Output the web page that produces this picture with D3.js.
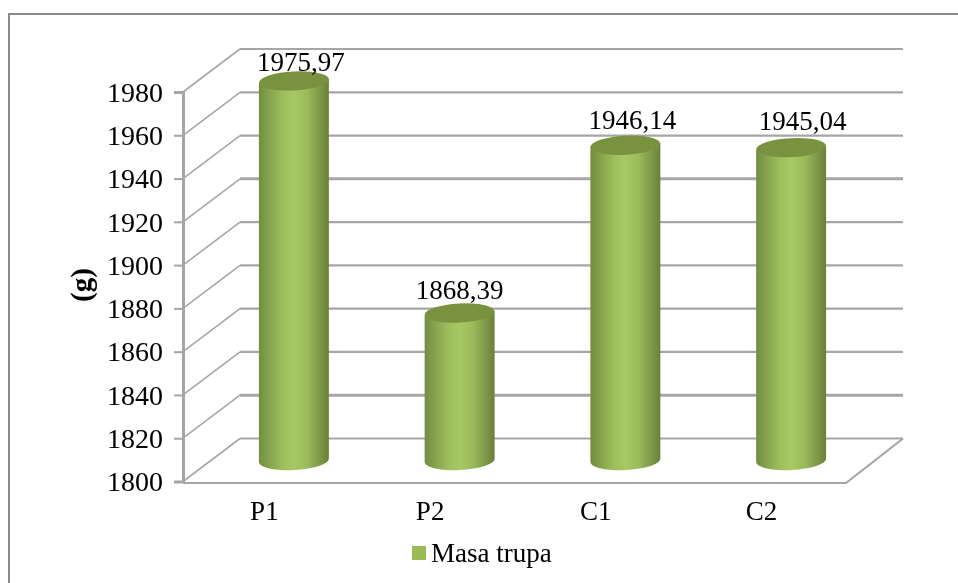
<!DOCTYPE html>
<html><head><meta charset="utf-8">
<script src="https://cdnjs.cloudflare.com/ajax/libs/d3/7.8.5/d3.min.js"></script>
<style>html,body{margin:0;padding:0;background:#fff}svg{display:block}text{font-family:"Liberation Serif","Times New Roman",serif;fill:#000}</style>
</head><body><svg id="c" width="958" height="583"></svg>
<script>
const categories = ["P1","P2","C1","C2"];
const seriesName = "Masa trupa";
const values = [1975.97,1868.39,1946.14,1945.04];
const valueLabels = ["1975,97","1868,39","1946,14","1945,04"];
const yTicks = [1800,1820,1840,1860,1880,1900,1920,1940,1960,1980];
const yTitle = "(g)";

const svg = d3.select("#c");
const defs = svg.append("defs");
defs.append("filter").attr("id","soft").append("feGaussianBlur").attr("stdDeviation",0.45);
const side = defs.append("linearGradient").attr("id","side");
[[0,"#728d40"],[0.12,"#829f4a"],[0.35,"#9fbf5e"],[0.5,"#a7c864"],[0.68,"#9cbc5b"],[0.88,"#7d9748"],[1,"#68803a"]]
  .forEach(([o,c])=>side.append("stop").attr("offset",o).attr("stop-color",c));

const dx = 57, dy = 43;
const x = d3.scaleBand().domain(categories).range([183,846]).paddingInner(0.578).paddingOuter(0.289);
const xLabels = d3.scaleBand().domain(categories).range([183,846]);
const y = d3.scaleLinear().domain([1800,1980]).range([481.5,92]);
const yBar = d3.scaleLinear().domain([1800,1980]).range([460.5,72.2]);

const g = svg.append("g").attr("filter","url(#soft)");

// outer frame
g.append("path").attr("d","M9,583V14H958").attr("fill","none").attr("stroke","#8a8a8a").attr("stroke-width",2);

// walls
const grid = g.append("g").attr("fill","none").attr("stroke","#a6a6a6");
grid.selectAll(".back").data(yTicks).join("line")
  .attr("x1",183+dx).attr("x2",846+dx)
  .attr("y1",d=>y(d)-dy).attr("y2",d=>y(d)-dy)
  .attr("stroke-width",d=>(d===1920||d===1820)?3:2.2);
grid.selectAll(".diag").data(yTicks).join("line")
  .attr("x1",183).attr("x2",183+dx)
  .attr("y1",d=>y(d)).attr("y2",d=>y(d)-dy)
  .attr("stroke-width",1.6);
g.append("path").attr("d",`M183,483H846L${846+dx},${y(1800)-dy}`)
  .attr("fill","none").attr("stroke","#a6a6a6").attr("stroke-width",2.2);

// axis
const axis = g.append("g").attr("transform","translate(183,0)")
  .call(d3.axisLeft(y).tickValues(yTicks).tickSize(9).tickPadding(11).tickFormat(d3.format("d")));
axis.select(".domain").attr("stroke","#a6a6a6").attr("stroke-width",3);
axis.selectAll(".tick line").attr("stroke","#a6a6a6").attr("stroke-width",2);
axis.selectAll("text").attr("font-size",28).attr("dy","0.33em");

// cylinders
const rx = x.bandwidth()/2, ry = 9.5, tilt = Math.tan(3*Math.PI/180);
const bars = g.selectAll(".bar").data(values).join("g").attr("class","bar")
  .attr("transform",(d,i)=>`translate(${x(categories[i])+rx+dx/2-0.5},0)`);
bars.append("path").attr("fill","url(#side)")
  .attr("d",d=>{
    const t=yBar(d), b=yBar(1800), e=rx*tilt;
    return `M${-rx},${t+e}L${-rx},${b+e}A${rx},${ry} -3 0 0 ${rx},${b-e}L${rx},${t-e}Z`;
  });
bars.append("ellipse").attr("rx",rx).attr("ry",ry).attr("cy",d=>yBar(d))
  .attr("fill","#78923f")
  .attr("transform",d=>`rotate(-3 0 ${yBar(d)})`);

// data labels
const labelNudge = [[7,-10],[0,-14],[7,-16],[11.5,-18]];
bars.append("text").attr("text-anchor","middle").attr("font-size",27)
  .attr("x",(d,i)=>labelNudge[i][0])
  .attr("y",(d,i)=>yBar(d)+labelNudge[i][1])
  .text((d,i)=>valueLabels[i]);

// category labels
g.selectAll(".cat").data(categories).join("text").attr("text-anchor","middle").attr("font-size",27)
  .attr("x",d=>xLabels(d)+xLabels.bandwidth()/2-1.5).attr("y",520).text(d=>d);

// y title
g.append("text").attr("transform","translate(91,285) rotate(-90)").attr("text-anchor","middle")
  .attr("font-size",29).attr("font-weight","bold").text(yTitle);

// legend
g.append("rect").attr("x",412).attr("y",546).attr("width",14).attr("height",14).attr("fill","#9bbb59");
g.append("text").attr("x",431).attr("y",562).attr("font-size",27).text(seriesName);
</script></body></html>
